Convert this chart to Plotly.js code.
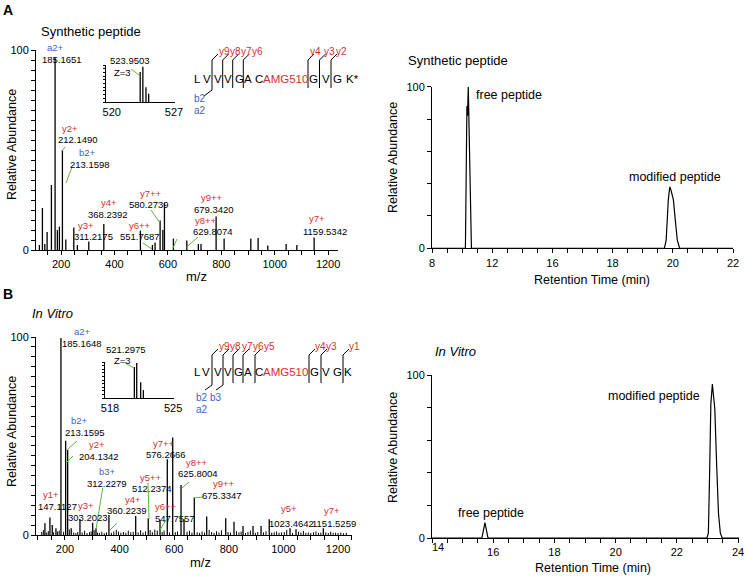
<!DOCTYPE html>
<html><head><meta charset="utf-8">
<script src="https://cdn.plot.ly/plotly-3.0.1.min.js"></script>
<style>html,body{margin:0;padding:0;background:#fff}#c{width:747px;height:578px}</style>
</head><body><div id="c"></div>
<script>
// ---------- DATA ----------
// Panel A: MS/MS spectrum, synthetic peptide
const mzA  = [118.7,130,139,147.6,163.7,177.5,186,193.6,204.9,217.6,247.6,261,303.7,360,497,542,552,570.8,581,587,620.6,670.8,714,724,780.5,810.5,910.5,937.8,974,1042.7,1082.8,1147.6];
const intA = [2.5,21,3,9,32.5,96,10,11.7,50,5.3,11.3,2.5,4.2,13,9.7,2.5,3.7,14.7,10,23.3,5.7,4.7,3,3,16.7,5.7,5.7,6,2.3,3,2.5,6.2];
// Panel A inset: precursor isotope cluster
const mzInsetA  = [523.2,523.5,523.85,524.15];
const intInsetA = [81,95,40,22];
// Panel A chromatogram (retention time in min as labelled, relative abundance)
const rtTicksA = [8,12,16,18,20,22];
const rtA  = [8,10.22,10.32,10.36,10.41,10.62,19.72,19.78,19.85,19.9,19.94,19.97,20.02,20.08,20.15,20.23,22];
const abA  = [0,0,88,82,100,0,0,5,30,38,36,34,30,18,5,0,0];

// Panel B: MS/MS spectrum, in vitro
const mzB  = [126.7,145,153.5,167,185.3,202.6,209.9,223,255,301.5,313.6,361,459,505,548,574.7,594.5,625,636,673.6,719,788.6,819,852,888.6,918,948,1024,1046,1146];
const intB = [5.9,8.9,5,3.4,99.5,47.6,43,3.4,7.9,6.2,3.4,10.1,9.6,8.4,7.6,38.2,49.3,25.3,7.9,19,9.3,8.4,6.7,4.5,4.5,4.5,7.9,3.4,2.9,3.4];
// small background peaks in panel B
const mzNoiseB  = [115,121,133,139,158,173,179,195,216,232,240,247,263,272,281,290,296,307,319,326,335,344,352,370,379,388,396,405,414,423,432,441,450,468,477,486,495,512,520,529,538,556,563,583,604,612,647,656,665,684,693,702,711,728,737,746,755,764,773,797,806,828,837,845,861,870,879,897,906,927,936,957,966,975,984,993,1003,1012,1033,1055,1064,1073,1082,1091,1100,1110,1119,1128,1137,1155,1164,1173,1182,1191,1200,1210,1220,1230];
const intNoiseB = [1.5,2.5,1.2,2,1.4,1.8,2.2,1.6,2.8,1.2,1,1.5,1.3,2.2,1,1.4,1.8,2.5,1.2,1,1.6,0.9,1.3,1.1,1.8,2.6,1.7,1.2,1.5,1.1,2.2,1.4,1.6,1.3,2.4,1.2,1.8,2.5,1.4,2.7,2.2,1.5,2.2,1.3,1.4,1.8,1.6,2.1,1.2,1.4,1.1,1.8,1.3,2.6,1.5,1.1,1.9,1.2,2.4,1.5,1.2,1.9,1.3,1.7,1,1.6,2.2,1.1,1.5,1.3,1.9,1.2,1.4,1.8,1.1,1.3,1.5,2.6,1,1.6,1.2,2.1,1.1,1.3,1,1.4,1.8,1.1,1.2,1.3,1,1.7,1.1,1.2,1,1.3,0.9,1.1];
// Panel B inset
const mzInsetB  = [520.7,520.96,521.4,521.7];
const intInsetB = [86,97,44,22];
// Panel B chromatogram
const rtB = [14,15.63,15.73,15.83,22.98,23.03,23.07,23.11,23.16,23.2,23.24,23.3,23.36,23.42,23.48,24.03];
const abB = [0,0,9.4,0,0,3,40,82,94.5,86,79,45,15,3,0,0];

// tick labels
const mzTicks = [200,400,600,800,1000,1200];
const abTicks = [0,100];
const rtTicksB = [14,16,18,20,22,24];
const insetTicksA = [520,527];
const insetTicksB = [518,525];

// ---------- HELPERS ----------
const W=747,H=578;
const FONT='Arial, "Liberation Sans", sans-serif';
const RED='#d1302f', BLUE='#4262bd', GREEN='#5cb83a';
const PX=x=>x/W, PY=y=>1-y/H;
const xd=(a,b)=>[a/W,b/W];
const yd=(top,bot)=>[1-bot/H,1-top/H];
function sticks(mz,it){const x=[],y=[];mz.forEach((m,i)=>{x.push(m,m,null);y.push(0,it[i],null);});return {x,y};}
// piecewise mapping of labelled retention time to equally spaced tick index (panel A axis)
function rtIndexA(v){for(let i=0;i<rtTicksA.length-1;i++){const a=rtTicksA[i],b=rtTicksA[i+1];if(v<=b)return i+(v-a)/(b-a);}return rtTicksA.length-1;}
// tick positions at a fixed step, with text only where a label exists
function tickSet(start,end,step,labelVals,labelText,hide){
  const vals=[],text=[];
  for(let v=start;v<=end+1e-9;v+=step){const r=Math.round(v*1000)/1000;vals.push(r);
    const k=labelVals.findIndex(l=>Math.abs(l-r)<1e-6);
    text.push(k>=0&&!(hide&&hide.includes(labelVals[k]))?String(labelText?labelText[k]:labelVals[k]):'');}
  return {tickmode:'array',tickvals:vals,ticktext:text};
}

const base={showline:true,linecolor:'#000',linewidth:1,ticks:'outside',tickcolor:'#000',ticklen:4,tickwidth:1,
  showgrid:false,zeroline:false,fixedrange:true,tickfont:{family:FONT,size:11,color:'#000'}};
const mk=(o,t)=>Object.assign({},base,t||{},o);

const traces=[];
const sA=sticks(mzA,intA);
traces.push({x:sA.x,y:sA.y,xaxis:'x',yaxis:'y',mode:'lines',line:{color:'#000',width:1.3},hoverinfo:'skip'});
const sIA=sticks(mzInsetA,intInsetA);
traces.push({x:sIA.x,y:sIA.y,xaxis:'x5',yaxis:'y5',mode:'lines',line:{color:'#000',width:1.3},hoverinfo:'skip'});
traces.push({x:rtA.map(rtIndexA),y:abA,xaxis:'x2',yaxis:'y2',mode:'lines',line:{color:'#000',width:1.2},hoverinfo:'skip'});
const sNB=sticks(mzNoiseB,intNoiseB);
traces.push({x:sNB.x,y:sNB.y,xaxis:'x3',yaxis:'y3',mode:'lines',line:{color:'#000',width:1},hoverinfo:'skip'});
const sB=sticks(mzB,intB);
traces.push({x:sB.x,y:sB.y,xaxis:'x3',yaxis:'y3',mode:'lines',line:{color:'#000',width:1.3},hoverinfo:'skip'});
const sIB=sticks(mzInsetB,intInsetB);
traces.push({x:sIB.x,y:sIB.y,xaxis:'x6',yaxis:'y6',mode:'lines',line:{color:'#000',width:1.3},hoverinfo:'skip'});
traces.push({x:rtB,y:abB,xaxis:'x4',yaxis:'y4',mode:'lines',line:{color:'#000',width:1.2},hoverinfo:'skip'});

const ann=[];
function T(text,x,y,o){ann.push(Object.assign({text:text,x:PX(x),y:PY(y),xref:'paper',yref:'paper',showarrow:false,
  xanchor:'center',yanchor:'middle',font:{family:FONT,size:9.5,color:'#000'}},o||{}));}
function F(size,color,extra){return Object.assign({font:{family:FONT,size:size,color:color||'#000'}},extra||{});}
const shapes=[];
function L(x0,y0,x1,y1,color,w){shapes.push({type:'line',xref:'paper',yref:'paper',x0:PX(x0),y0:PY(y0),x1:PX(x1),y1:PY(y1),line:{color:color||'#000',width:w||1}});}

// panel letters & titles
T('<b>A</b>',8,10,F(14));
T('<b>B</b>',8,294,F(14));
T('Synthetic peptide',91,31,F(13));
T('<i>In Vitro</i>',52,313,F(13));
T('Synthetic peptide',458,61,F(13));
T('<i>In Vitro</i>',455,351,F(13));
// axis titles
T('Relative Abundance',12,145,F(12.5,'#000',{textangle:-90}));
T('Relative Abundance',12,432,F(12.5,'#000',{textangle:-90}));
T('m/z',196,276,F(13));
T('m/z',200,562,F(13));
T('Relative Abundance',393,158,F(12.5,'#000',{textangle:-90}));
T('Relative Abundance',393,448,F(12.5,'#000',{textangle:-90}));
T('Retention Time (min)',592,280,F(12.5));
T('Retention Time (min)',593,568,F(12.5));
T('free peptide',509,95,F(12.5));
T('modified peptide',675,177,F(12.5));
T('free peptide',491,513,F(12.5));
T('modified peptide',654,396,F(12.5));
T(String(rtTicksB[0]),438,547,F(11));

// spectrum peak labels A
const labA=[['a2+',55,48,BLUE],['185.1651',62,59],['y2+',70,128,RED],['212.1490',78,139],['b2+',87,153,BLUE],['213.1598',90,164],
 ['y4+',109,202,RED],['368.2392',108,214],['y3+',86,225,RED],['311.2175',93,237],['y7++',150.7,193,RED],['580.2739',148.7,204],
 ['y6++',140,225,RED],['551.7687',140,237],['y9++',212,198,RED],['679.3420',214,209],['y8++',206,221,RED],['629.8074',213,232],
 ['y7+',317,219,RED],['1159.5342',325,231],['523.9503',130,61],['Z=3',122,72]];
labA.forEach(a=>T(a[0],a[1],a[2],F(9.5,a[3]||'#000')));
const labB=[['a2+',82,331,BLUE],['185.1648',82,343],['521.2975',126,349],['Z=3',122,360],['b2+',79,421,BLUE],['213.1595',85,432],
 ['y2+',97,444,RED],['204.1342',99,456],['b3+',107,471,BLUE],['312.2279',107,483],['y1+',51,494,RED],['147.1127',58,506],
 ['y3+',86,505,RED],['303.2023',88,517],['y4+',133,499,RED],['360.2239',127,510],['y5++',151,477,RED],['512.2374',152,488.5],
 ['y6++',166,506,RED],['547.7557',175,518],['y7++',164,443,RED],['576.2666',166,454],['y8++',197,462,RED],['625.8004',198,473],
 ['y9++',224,483,RED],['675.3347',222,495],['y5+',289,509,RED],['1023.4642',291,523],['y7+',332,510,RED],['1151.5259',334,523]];
labB.forEach(a=>T(a[0],a[1],a[2],F(9.5,a[3]||'#000')));
// green leader lines
[[62,151,65,147],[66,183,72,167],[151,210,160,223],[143,243,152,249],[186.7,247,198,237],[173,248,177,239],[131,69,139,75]].forEach(g=>L(g[0],g[1],g[2],g[3],GREEN,1));
[[68,449,77,441],[66,463,73,456],[102.7,488,96,529],[110,530,117,523],[148,483,149,519],[160,530,166,520],[182,488,189,482],[194,498,203,497],[125,363,134,368]].forEach(g=>L(g[0],g[1],g[2],g[3],GREEN,1));

// peptide sequences
const seqA=[['L',197],['V',207],['V',218],['V',228],['G',239],['A',248],['C',259],['AMG510',285,RED],['G',313],['V',326],['G',337],['K*',352]];
seqA.forEach(s=>T(s[0],s[1],79,F(11.5,s[2]||'#000')));
const seqB=[['L',197],['V',206],['V',218],['V',228],['G',238],['A',248],['C',259],['AMG510',285,RED],['G',314],['V',326],['G',337],['K',348]];
seqB.forEach(s=>T(s[0],s[1],372,F(11.5,s[2]||'#000')));
const yFragA=[['y9',224],['y8',235],['y7',246],['y6',257],['y4',315],['y3',329],['y2',341]];
yFragA.forEach(s=>T(s[0],s[1],51,F(10,RED)));
T('b2',200,99,F(10,BLUE)); T('a2',200,111,F(10,BLUE));
const yFragB=[['y9',224.6],['y8',235.8],['y7',247],['y6',258],['y5',269],['y4',320.5],['y3',331.7],['y1',354]];
yFragB.forEach(s=>T(s[0],s[1],346,F(10,RED)));
T('b2',202,397,F(10,BLUE)); T('b3',216,397,F(10,BLUE)); T('a2',202,409,F(10,BLUE));
// cleavage brackets
[212,222.7,232.7,243.3,308,319.5,331].forEach(x=>{L(x,60,x,88);L(x,60,x+6,54);});
L(212,88,212,90); L(212,90,204,96);
[212,223,233,243,255,309,321,343].forEach(x=>{L(x,355,x,383);L(x,355,x+6,349);});
L(212,383,212,385); L(212,385,205,390); L(223,383,223,385); L(223,385,216,390);

const layout={width:W,height:H,margin:{l:0,r:0,t:0,b:0},paper_bgcolor:'#fff',plot_bgcolor:'rgba(0,0,0,0)',showlegend:false,
 font:{family:FONT,color:'#000'},
 xaxis: mk({domain:xd(36,338),range:[106,1237],anchor:'y'},tickSet(150,1200,50,mzTicks)),
 yaxis: mk({domain:yd(50,250),range:[0,100],anchor:'x'},tickSet(0,100,5,abTicks)),
 xaxis2: mk({domain:xd(432,733),range:[0,rtTicksA.length-1],anchor:'y2'},tickSet(0,rtTicksA.length-1,0.25,rtTicksA.map((v,i)=>i),rtTicksA)),
 yaxis2: mk({domain:yd(86.7,248.3),range:[0,100],anchor:'x2'},tickSet(0,100,20,abTicks)),
 xaxis3: mk({domain:xd(36,352),range:[94,1251],anchor:'y3'},tickSet(100,1250,50,mzTicks)),
 yaxis3: mk({domain:yd(337,535),range:[0,100],anchor:'x3'},tickSet(0,100,5,abTicks)),
 xaxis4: mk({domain:xd(432,739),range:[14,24.03],anchor:'y4'},tickSet(14,24,0.5,rtTicksB,null,[rtTicksB[0]])),
 yaxis4: mk({domain:yd(375,538),range:[0,100],anchor:'x4'},tickSet(0,100,20,abTicks)),
 xaxis5: mk({domain:xd(106,175),range:[519.36,527.11],tickvals:insetTicksA,ticks:'',anchor:'y5'}),
 yaxis5: mk({domain:yd(65,102),range:[0,100],showticklabels:false,ticklen:2,anchor:'x5'},tickSet(0,100,10,[])),
 xaxis6: mk({domain:xd(105,174),range:[517.44,525.1],tickvals:insetTicksB,ticks:'',anchor:'y6'}),
 yaxis6: mk({domain:yd(362,398),range:[0,100],showticklabels:false,ticklen:2,anchor:'x6'},tickSet(0,100,10,[])),
 annotations:ann, shapes:shapes};
Plotly.newPlot('c',traces,layout,{staticPlot:true,displayModeBar:false});
</script></body></html>
